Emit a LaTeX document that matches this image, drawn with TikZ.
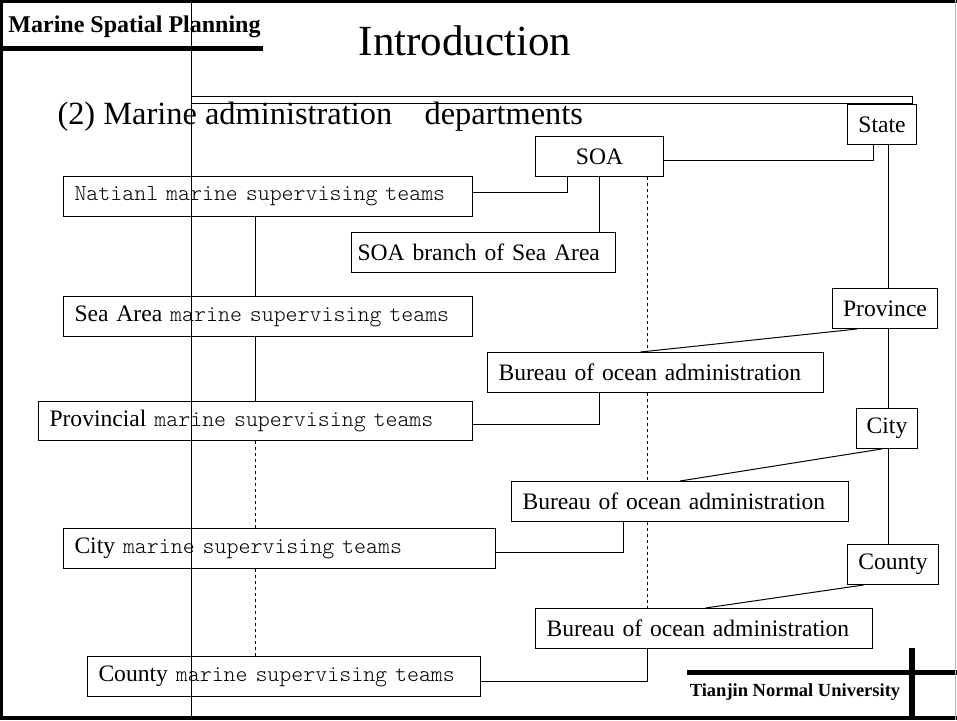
\documentclass[tikz,border=0pt]{standalone}
\usepackage{fontspec}
\setmainfont{Liberation Serif}
\newfontfamily\lightmono{lmmonolt10-regular.otf}
\newcommand{\sunfont}{\lightmono\fontsize{22.8}{26}\selectfont}
\newcommand{\mst}{{\sunfont\ marine supervising teams}}

\begin{document}
\begin{tikzpicture}[
        x=1pt,
        y=-1pt,
        line width=1pt,
        every node/.style={font=\fontsize{23.6}{28}\selectfont},
        box/.style={draw, fill=white, rectangle, anchor=north west, inner xsep=11pt, inner ysep=0pt, minimum height=40pt, align=left},
        tag/.style={box, inner xsep=10pt},
        frame/.style={line width=3pt},
        bar/.style={line width=5pt}
    ]
    \useasboundingbox (0,0) rectangle (957,720);
    \coordinate (dl) at (255,0);
    \coordinate (dr) at (647,0);
    \coordinate (sp) at (888,0);

    \node[font=\bfseries\fontsize{24}{28}\selectfont, anchor=base west, inner sep=0pt] (hdr) at (8,32) {Marine Spatial Planning};
    \node[font=\fontsize{43}{50}\selectfont, anchor=base, inner sep=0pt] (title) at (465,55) {Introduction};
    \node[font=\fontsize{32.4}{38}\selectfont, anchor=base west, inner sep=0pt] (sub) at (57,124) {(2) Marine administration\quad departments};
    \node[font=\bfseries\fontsize{18.5}{22}\selectfont, anchor=base, inner sep=0pt] (uni) at (795,696) {Tianjin Normal University};

    \node[tag, minimum width=69pt] (state) at (847,104) {State};
    \node[tag, minimum width=105pt] (pvc) at (832,288) {Province};
    \node[tag, minimum width=61pt] (city) at (856,408) {City};
    \node[tag, minimum width=91pt] (cnty) at (847,544) {County};

    \node[box, minimum width=128pt] (soa) at (535,136) {SOA};
    \node[box, inner xsep=6pt, text width=252pt] (branch) at (351,232) {SOA branch of Sea Area};
    \node[box, text width=314pt] (bur1) at (487,352) {Bureau of ocean administration};
    \node[box, text width=315pt] (bur2) at (511,481) {Bureau of ocean administration};
    \node[box, text width=315pt] (bur3) at (535,608) {Bureau of ocean administration};

    \node[box, text width=387pt] (natl) at (63,176) {{\sunfont Natianl}\mst};
    \node[box, text width=387pt] (sea) at (63,296) {Sea Area\mst};
    \node[box, text width=412pt, minimum height=39pt] (prov) at (38,401) {Provincial\mst};
    \node[box, text width=410pt] (citym) at (63,528) {City\mst};
    \node[box, text width=371pt] (cntym) at (87,656) {County\mst};

    \draw ([yshift=-4pt]soa.east) -| ([xshift=-9pt]state.south);
    \draw ([xshift=-32pt]soa.south) |- ([yshift=4pt]natl.east);
    \draw (soa.south) -- (branch.north -| soa.south);
    \draw[dashed] (soa.south -| dr) -- (bur1.north -| dr);
    \draw[dashed] (bur1.south -| dr) -- (bur2.north -| dr);
    \draw[dashed] (bur2.south -| dr) -- (bur3.north -| dr);
    \draw (bur3.south -| dr) |- ([yshift=-5pt]cntym.east);
    \draw ([xshift=-56pt]bur1.south) |- ([yshift=-3.5pt]prov.east);
    \draw ([xshift=-56.5pt]bur2.south) |- ([yshift=-4pt]citym.east);

    \draw (state.south -| sp) -- (pvc.north -| sp);
    \draw (pvc.south -| sp) -- (city.north -| sp);
    \draw (city.south -| sp) -- (cnty.north -| sp);
    \draw ([xshift=-28pt]pvc.south) -- ([xshift=-15pt]bur1.north);
    \draw ([xshift=-5.5pt]city.south) -- (bur2.north);
    \draw ([xshift=-29.5pt]cnty.south) -- ([xshift=1.5pt]bur3.north);

    \draw (natl.south -| dl) -- (sea.north -| dl);
    \draw (sea.south -| dl) -- (prov.north -| dl);
    \draw[dashed] (prov.south -| dl) -- (citym.north -| dl);
    \draw[dashed] (citym.south -| dl) -- (cntym.north -| dl);

    \draw[line width=0.8pt] (191,0) -- (191,720);
    \draw[line width=0.8pt] (191,96) rectangle (912,103);
    \draw[bar] (0,48) -- (263,48);
    \draw[bar] (687,672) -- (957,672);
    \draw[line width=6pt] (912,648) -- (912,720);
    \draw[frame] (1.5,0) -- (1.5,720);
    \draw[frame] (0,1.5) -- (957,1.5);
    \draw[line width=4pt] (0,718) -- (957,718);
    \draw[gray!60] (955.5,0) -- (955.5,720);
\end{tikzpicture}
\end{document}
